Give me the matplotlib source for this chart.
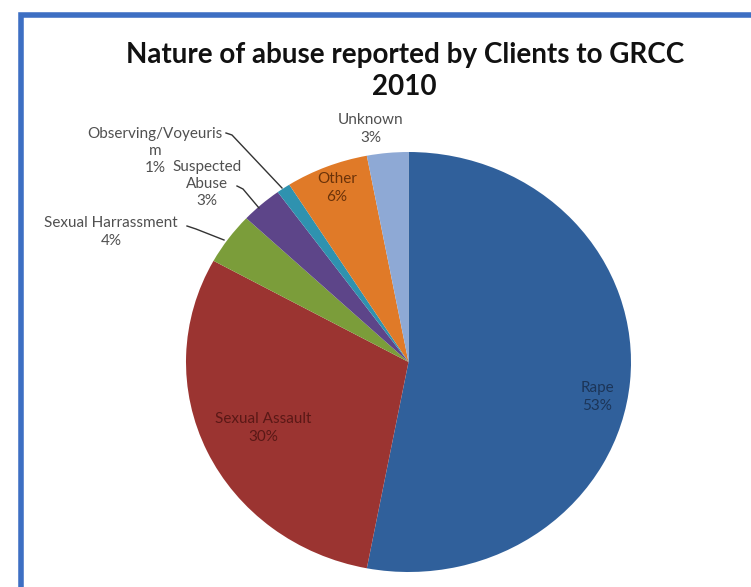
import matplotlib
matplotlib.use('Agg')
from matplotlib import pyplot as plt
from matplotlib.patches import Rectangle

# data (percent)
categories = ['Rape', 'Sexual Assault', 'Sexual Harrassment', 'Suspected\nAbuse',
              'Observing/Voyeuris\nm', 'Other', 'Unknown']
values = [53, 30, 4, 3, 1, 6, 3]
colors = ['#30609b', '#9b3431', '#7b9d3a', '#5d4589', '#2f92af', '#e07a28', '#8ea9d5']

plt.rcParams['font.family'] = ['Lato', 'DejaVu Sans']

fig = plt.figure(figsize=(7.51, 5.87), dpi=100)

# blue frame (cut off at right and bottom like the screenshot)
frame = Rectangle((20.5 / 751, -0.1), 1.2, 1 - 14.5 / 587 + 0.1, transform=fig.transFigure,
                  fill=False, edgecolor='#3d6fc3', linewidth=4, clip_on=False)
fig.patches.append(frame)

fig.text(0.539, 1 - 71 / 587, 'Nature of abuse reported by Clients to GRCC\n2010',
         ha='center', va='center', fontsize=20, fontweight='bold',
         linespacing=1.3, color='#111111')

# pie is slightly stretched horizontally in the original
cx, cy, rx, ry = 408.5, 362, 222.5, 210
ax = fig.add_axes([(cx - rx) / 751, (587 - cy - ry) / 587, 2 * rx / 751, 2 * ry / 587])
wedges, _ = ax.pie(values, colors=colors, startangle=90, counterclock=False,
                   radius=1, wedgeprops=dict(linewidth=0))
ax.set_xlim(-1, 1)
ax.set_ylim(-1, 1)
ax.set_aspect('auto')
ax.axis('off')


def px(x, y):
    return ((x - cx) / rx, (cy - y) / ry)


pcts = [f'{v}%' for v in values]
fs = 11
ls = 1.3

# labels inside
ax.text(*px(597, 397), f'{categories[0]}\n{pcts[0]}', ha='center', va='center',
        fontsize=fs, color='#1c3558', linespacing=ls)
ax.text(*px(263, 428), f'{categories[1]}\n{pcts[1]}', ha='center', va='center',
        fontsize=fs, color='#5a1816', linespacing=ls)
ax.text(*px(337, 188), f'{categories[5]}\n{pcts[5]}', ha='center', va='center',
        fontsize=fs, color='#6a3209', linespacing=ls)

# labels outside
gray = '#505050'
ax.text(*px(371, 129), f'{categories[6]}\n{pcts[6]}', ha='center', va='center',
        fontsize=fs, color=gray, linespacing=ls)
ax.text(*px(155, 151), f'{categories[4]}\n{pcts[4]}', ha='center', va='center',
        fontsize=fs, color=gray, linespacing=ls)
ax.text(*px(207, 184), f'{categories[3]}\n{pcts[3]}', ha='center', va='center',
        fontsize=fs, color=gray, linespacing=ls)
ax.text(*px(111, 232), f'{categories[2]}\n{pcts[2]}', ha='center', va='center',
        fontsize=fs, color=gray, linespacing=ls)

# leader lines
leaders = [
    [(226, 133), (232, 135), (282, 188)],
    [(237, 186), (243, 189), (259, 208)],
    [(187, 226), (196, 229), (224, 240)],
]
for pts in leaders:
    xs, ys = zip(*[px(x, y) for x, y in pts])
    ax.plot(xs, ys, color='#333333', lw=1, clip_on=False)

fig.savefig('out.png', dpi=100)
